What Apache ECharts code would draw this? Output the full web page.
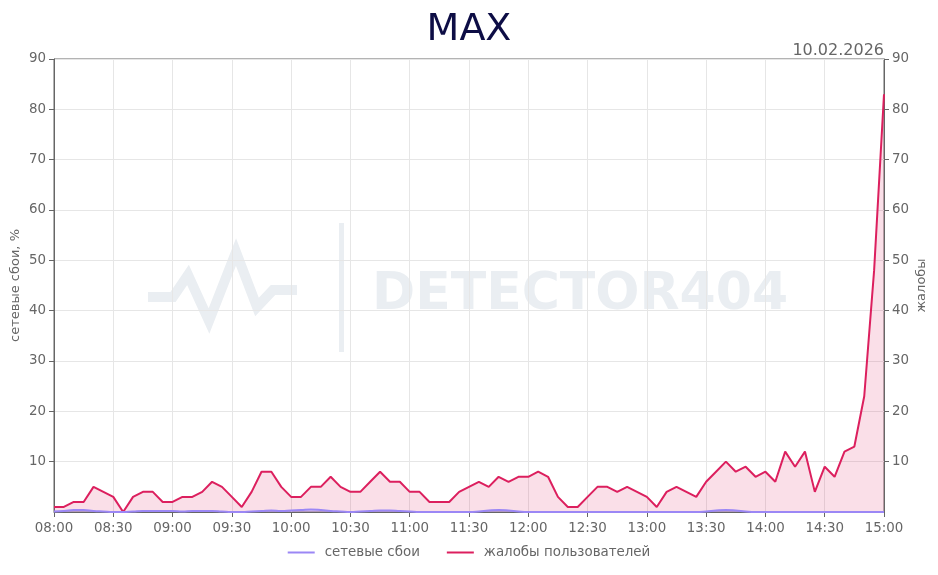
<!DOCTYPE html>
<html>
<head>
<meta charset="utf-8">
<script src="https://cdn.jsdelivr.net/npm/echarts@6/dist/echarts.min.js"></script>
<style>html,body{margin:0;padding:0;background:#fff}#c{width:938px;height:575px}</style>
</head>
<body>
<div id="c"></div>
<script>
const times = ["08:00","08:05","08:10","08:15","08:20","08:25","08:30","08:35","08:40","08:45","08:50","08:55",
"09:00","09:05","09:10","09:15","09:20","09:25","09:30","09:35","09:40","09:45","09:50","09:55",
"10:00","10:05","10:10","10:15","10:20","10:25","10:30","10:35","10:40","10:45","10:50","10:55",
"11:00","11:05","11:10","11:15","11:20","11:25","11:30","11:35","11:40","11:45","11:50","11:55",
"12:00","12:05","12:10","12:15","12:20","12:25","12:30","12:35","12:40","12:45","12:50","12:55",
"13:00","13:05","13:10","13:15","13:20","13:25","13:30","13:35","13:40","13:45","13:50","13:55",
"14:00","14:05","14:10","14:15","14:20","14:25","14:30","14:35","14:40","14:45","14:50","14:55","15:00"];

const complaints = [1,1,2,2,5,4, 3,0,3,4,4,2, 2,3,3,4,6,5, 3,1,4,8,8,5,
3,3,5,5,7,5, 4,4,6,8,6,6, 4,4,2,2,2,4, 5,6,5,7,6,7,
7,8,7,3,1,1, 3,5,5,4,5,4, 3,1,4,5,4,3, 6,8,10,8,9,7,
8,6,12,9,12,4, 9,7,12,13,23,48, 83];

const failures = [0.1,0.2,0.4,0.4,0.2,0.1, 0,0,0.1,0.2,0.2,0.2, 0.2,0.1,0.2,0.2,0.2,0.1, 0,0,0.1,0.2,0.3,0.2,
0.3,0.4,0.5,0.4,0.2,0.1, 0,0.1,0.2,0.3,0.3,0.2, 0.1,0,0,0,0,0, 0,0.1,0.3,0.4,0.3,0.1,
0,0,0,0,0,0, 0,0,0,0,0,0, 0,0,0,0,0,0, 0.1,0.3,0.4,0.3,0.1,0,
0,0,0,0,0,0, 0,0,0,0,0,0, 0];

const yTicks = {min:0, max:90, interval:10};
const titleText = "MAX";
const dateText = "10.02.2026";
const names = ["сетевые сбои","жалобы пользователей"];

const chart = echarts.init(document.getElementById('c'), null, {renderer:'canvas'});
const font = "'DejaVu Sans', sans-serif";
const grey = '#666';
const wm = '#eaeef2';

chart.setOption({
  animation:false,
  textStyle:{fontFamily:font},
  title:[
    {text:titleText, left:'center', top:6, textStyle:{fontFamily:font, fontSize:38, fontWeight:'normal', color:'#0d0d45'}},
    {text:dateText, right:49, top:38, textStyle:{fontFamily:font, fontSize:16, fontWeight:'normal', color:grey}}
  ],
  graphic:[
    {type:'polyline', silent:true, z:-10, shape:{points:[[148,297],[173,297],[188,275],[209,321],[236,252],[257,307],[273,290],[297,290]]},
      style:{stroke:wm, lineWidth:10, fill:null, lineJoin:'miter', miterLimit:10}},
    {type:'rect', silent:true, z:-10, shape:{x:339, y:223, width:5, height:129}, style:{fill:wm}},
    {type:'text', silent:true, z:-10, left:372, top:269, style:{text:'DETECTOR404', fill:wm, font:"bold 52px 'DejaVu Sans', sans-serif"}}
  ],
  legend:{bottom:11, left:'center', itemWidth:27, itemHeight:2, itemGap:27, icon:'rect',
    textStyle:{fontFamily:font, fontSize:13.4, color:grey, padding:[0,0,0,5]},
    data:[{name:names[0]},{name:names[1]}]},
  grid:{left:54, right:54, top:59, bottom:63, outerBoundsMode:'none', containLabel:false, show:true, borderColor:grey, borderWidth:1, backgroundColor:'transparent'},
  xAxis:{type:'category', data:times, boundaryGap:false,
    axisLine:{lineStyle:{color:grey}},
    axisTick:{interval:5, length:5, lineStyle:{color:grey}},
    axisLabel:{interval:5, color:grey, fontSize:13.4, fontFamily:font, margin:10},
    splitLine:{show:true, interval:5, lineStyle:{color:'#e6e6e6'}}},
  yAxis:[
    {type:'value', min:yTicks.min, max:yTicks.max, interval:yTicks.interval, name:'сетевые сбои, %', nameLocation:'middle', nameGap:32, nameMoveOverlap:false,
      nameTextStyle:{color:grey, fontSize:13, fontFamily:font},
      axisLine:{show:true, lineStyle:{color:grey}}, axisTick:{show:true, length:5, lineStyle:{color:grey}},
      axisLabel:{showMinLabel:false, color:grey, fontSize:13.4, fontFamily:font, margin:8},
      splitLine:{lineStyle:{color:'#e6e6e6'}}},
    {type:'value', min:yTicks.min, max:yTicks.max, interval:yTicks.interval, position:'right', name:'жалобы', nameLocation:'middle', nameGap:31, nameMoveOverlap:false,
      nameTextStyle:{color:grey, fontSize:13, fontFamily:font},
      axisLine:{show:true, lineStyle:{color:grey}}, axisTick:{show:true, length:5, lineStyle:{color:grey}},
      axisLabel:{showMinLabel:false, color:grey, fontSize:13.4, fontFamily:font, margin:8},
      splitLine:{show:false}}
  ],
  series:[
    {name:names[0], type:'line', yAxisIndex:0, data:failures, smooth:true, symbol:'none',
      lineStyle:{color:'#9b87f5', width:2}, itemStyle:{color:'#9b87f5'}, areaStyle:{color:'rgba(155,135,245,0.35)'}, z:3},
    {name:names[1], type:'line', yAxisIndex:1, data:complaints, symbol:'none',
      lineStyle:{color:'#dc1f5e', width:2}, itemStyle:{color:'#dc1f5e'}, areaStyle:{color:'rgba(220,31,94,0.2)'}, z:2}
  ]
});
</script>
</body>
</html>
